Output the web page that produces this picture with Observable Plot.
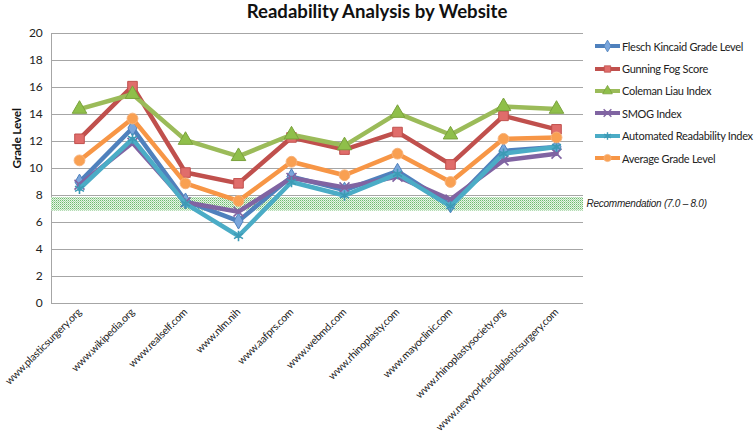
<!DOCTYPE html>
<html>
<head>
<meta charset="utf-8">
<script src="https://cdn.jsdelivr.net/npm/d3@7"></script>
<script src="https://cdn.jsdelivr.net/npm/@observablehq/plot@0.6"></script>
<style>
  body { margin: 0; background: #fff; }
  #wrap { position: relative; width: 754px; height: 443px; font-family: Lato, "Open Sans", sans-serif; overflow: hidden; }
  #title { position: absolute; left: 0; top: 0; width: 754px; text-align: center; font-weight: bold; font-size: 18.6px; line-height: 22px; color: #111; }
  #legend { position: absolute; left: 594px; top: 35px; font-size: 11px; letter-spacing: -0.3px; color: #222; }
  #legend .row { height: 22.4px; display: flex; align-items: center; white-space: nowrap; }
  #legend svg { margin-right: 1px; }
</style>
</head>
<body>
<svg width="0" height="0" style="position:absolute">
  <defs>
    <pattern id="dots" width="2" height="2" patternUnits="userSpaceOnUse">
      <rect width="2" height="2" fill="#e6f4e6"></rect>
      <rect width="1" height="1" fill="#6dbb6d"></rect>
      <rect x="1" y="1" width="1" height="1" fill="#a9d8a9"></rect>
    </pattern>
  </defs>
</svg>
<div id="wrap">
  <div id="chart"></div>
  <div id="title">Readability Analysis by Website</div>
  <div id="legend"></div>
</div>
<script>
const sites = ["www.plasticsurgery.org", "www.wikipedia.org", "www.realself.com", "www.nlm.nih", "www.aafprs.com", "www.webmd.com", "www.rhinoplasty.com", "www.mayoclinic.com", "www.rhinoplastysociety.org", "www.newyorkfacialplasticsurgery.com"];
const seriesNames = ["Flesch Kincaid Grade Level", "Gunning Fog Score", "Coleman Liau Index", "SMOG Index", "Automated Readability Index", "Average Grade Level"];
const flesch   = [9.0, 13.0, 7.6, 6.1, 9.4, 8.4, 9.8, 7.3, 11.3, 11.6];
const gunning  = [12.2, 16.1, 9.7, 8.9, 12.3, 11.4, 12.7, 10.3, 13.9, 12.9];
const coleman  = [14.4, 15.5, 12.1, 10.9, 12.5, 11.7, 14.1, 12.5, 14.6, 14.4];
const smog     = [8.8, 11.9, 7.5, 6.8, 9.3, 8.6, 9.4, 7.7, 10.6, 11.1];
const ari      = [8.5, 12.2, 7.4, 5.0, 9.0, 8.0, 9.6, 7.2, 11.1, 11.6];
const average  = [10.6, 13.7, 8.9, 7.6, 10.5, 9.5, 11.1, 9.0, 12.2, 12.3];
const yTicks = [0, 2, 4, 6, 8, 10, 12, 14, 16, 18, 20];
const band = [{lo: 6.85, hi: 7.85}];
const recLabel = "Recommendation (7.0 \u2013 8.0)";
const yLabel = "Grade Level";

const seriesValues = [flesch, gunning, coleman, smog, ari, average];
const styles = [
  {stroke: "#4f81bd", symbol: "diamond", fill: "#7aa6dc", mstroke: "#4f81bd", r: 4.8},
  {stroke: "#c0504d", symbol: "square", fill: "#e06d6b", mstroke: "#c0504d", r: 5.4},
  {stroke: "#9bbb59", symbol: "triangle", fill: "#8fbf4a", mstroke: "#7aa23c", r: 5.4},
  {stroke: "#8064a2", symbol: "times", fill: "none", mstroke: "#8064a2", r: 4.6},
  {stroke: "#4bacc6", symbol: "asterisk", fill: "none", mstroke: "#3d9ab5", r: 4.9},
  {stroke: "#f79646", symbol: "circle", fill: "#f9a052", mstroke: "#f7b27a", r: 5.4}
];

const marks = [
  Plot.gridY(yTicks, {stroke: "#a6a6a6", strokeOpacity: 1}),
  Plot.frame({anchor: "left", stroke: "#a6a6a6"}),
  Plot.rect(band, {y1: "lo", y2: "hi", fill: "url(#dots)"}),
  Plot.axisY(yTicks, {tickSize: 0, tickPadding: 9, fontSize: 12, label: null, fill: "#222", fontFamily: "Lato"}),
  Plot.axisX({tickRotate: -45, tickSize: 0, tickPadding: 7, fontSize: 10.5, label: null, fill: "#222", fontFamily: "Lato"}),
  Plot.text([yLabel], {frameAnchor: "left", dx: -34, rotate: -90, fontWeight: "bold", fontSize: 12, fontFamily: "Lato", fill: "#111"}),
  Plot.text([recLabel], {y: () => (band[0].lo + band[0].hi) / 2, frameAnchor: "right", dx: 3, dy: 0, textAnchor: "start", fontStyle: "italic", fontSize: 10, fontFamily: "Liberation Sans", fill: "#222"})
];

seriesValues.forEach((vals, i) => {
  const rows = sites.map((s, j) => ({site: s, value: vals[j]}));
  const st = styles[i];
  marks.push(Plot.line(rows, {x: "site", y: "value", stroke: st.stroke, strokeWidth: 4.5, strokeLinejoin: "round"}));
  marks.push(Plot.dot(rows, {x: "site", y: "value", symbol: () => st.symbol, fill: st.fill, stroke: st.mstroke, strokeWidth: st.fill === "none" ? 1.6 : 1, r: st.r}));
});

const chart = Plot.plot({
  width: 754,
  height: 443,
  marginLeft: 51,
  marginRight: 171,
  marginTop: 33,
  marginBottom: 140,
  style: {background: "transparent", fontFamily: "Lato", letterSpacing: "-0.25px"},
  x: {type: "point", domain: sites, padding: 0.5, axis: null},
  y: {domain: [0, 20], axis: null},
  symbol: {type: "identity"},
  marks
});
document.getElementById("chart").appendChild(chart);

// legend
const legend = d3.select("#legend");
const symMap = {diamond: d3.symbolDiamond, square: d3.symbolSquare, triangle: d3.symbolTriangle, times: d3.symbolTimes, asterisk: d3.symbolAsterisk, circle: d3.symbolCircle};
seriesNames.forEach((name, i) => {
  const st = styles[i];
  const row = legend.append("div").attr("class", "row");
  const svg = row.append("svg").attr("width", 27).attr("height", 12);
  svg.append("line").attr("x1", 1).attr("x2", 26).attr("y1", 6).attr("y2", 6).attr("stroke", st.stroke).attr("stroke-width", 4);
  svg.append("path").attr("transform", "translate(13.5,6)")
    .attr("d", d3.symbol(symMap[st.symbol], Math.PI * 3.6 * 3.6)())
    .attr("fill", st.fill).attr("stroke", st.mstroke).attr("stroke-width", st.fill === "none" ? 1.4 : 0.8);
  row.append("span").text(name);
});
</script>
</body>
</html>
